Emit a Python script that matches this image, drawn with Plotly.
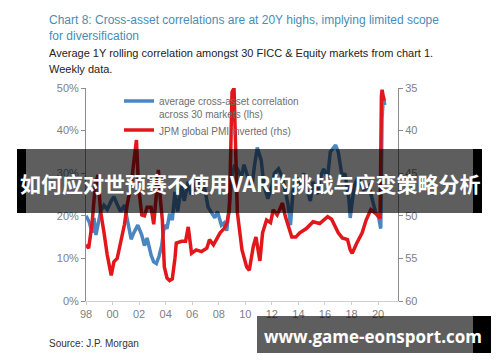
import plotly.graph_objects as go

# ---- data ----
corr_years = [1998.0, 1998.25, 1998.45, 1998.6, 1998.75, 1998.9, 1999.1, 1999.35, 1999.6, 1999.9,
              2000.1, 2000.3, 2000.6, 2000.9, 2001.1, 2001.4, 2001.6, 2001.9, 2002.2, 2002.4,
              2002.6, 2002.9, 2003.1, 2003.3, 2003.5, 2003.7, 2003.9, 2004.1, 2004.3, 2004.5,
              2004.7, 2004.9, 2005.2, 2005.4, 2005.7, 2005.9, 2006.2, 2006.4, 2006.7, 2006.9,
              2007.2, 2007.4, 2007.7, 2007.9, 2008.2, 2008.4, 2008.6, 2008.8, 2009.0, 2009.2,
              2009.4, 2009.7, 2009.9, 2010.2, 2010.5, 2010.7, 2010.9, 2011.2, 2011.4, 2011.7,
              2012.0, 2012.2, 2012.5, 2012.8, 2013.0, 2013.2, 2013.4, 2013.6, 2013.9, 2014.1,
              2014.4, 2014.6, 2014.9, 2015.1, 2015.4, 2015.7, 2015.9, 2016.2, 2016.4, 2016.8,
              2017.0, 2017.3, 2017.5, 2017.8, 2017.9, 2018.2, 2018.5, 2018.9, 2019.3, 2019.6,
              2019.8, 2020.05, 2020.2, 2020.3, 2020.4, 2020.5]
corr_values = [20, 18.5, 16, 19.5, 15.5, 18, 21, 22.5, 21.5, 23.5,
               24.5, 23, 21, 22.5, 19.5, 14.5, 16, 17.8, 15.5, 13,
               14.8, 10.8, 9.2, 8.8, 10.5, 13, 17.8, 17, 20.5, 19,
               25.6, 21, 27, 23.5, 28, 25, 26.5, 29, 25.5, 27,
               22, 21, 19.5, 21, 17.8, 18.3, 16.5, 22.5, 29.5, 32,
               31, 29, 32, 29, 27, 32, 36, 33, 27, 24,
               27, 30, 31, 29, 26, 23, 17.8, 26, 29, 27,
               30, 26.5, 23.5, 28, 25, 29.5, 31, 29, 35, 36.6,
               35, 29, 30, 24, 19.5, 27, 29, 26, 27, 23.6,
               21, 19.5, 17, 43, 48, 46]

pmi_years = [1998.0, 1998.2, 1998.45, 1998.7, 1998.9, 1999.1, 1999.35, 1999.6, 1999.9, 2000.1,
             2000.35, 2000.6, 2000.9, 2001.1, 2001.4, 2001.6, 2001.8, 2001.95, 2002.2, 2002.4,
             2002.6, 2002.9, 2003.1, 2003.3, 2003.45, 2003.6, 2003.75, 2003.9, 2004.1, 2004.3,
             2004.5, 2004.7, 2004.8, 2005.2, 2005.5, 2005.7, 2005.95, 2006.3, 2006.7, 2007.1,
             2007.3, 2007.6, 2008.1, 2008.4, 2008.6, 2008.8, 2008.9, 2009.0, 2009.15, 2009.3,
             2009.4, 2009.75, 2010.1, 2010.3, 2010.6, 2010.8, 2011.1, 2011.3, 2011.6, 2011.9,
             2012.1, 2012.4, 2012.8, 2013.0, 2013.2, 2013.5, 2013.8, 2014.1, 2014.6, 2015.1,
             2015.6, 2016.2, 2016.5, 2017.0, 2017.3, 2017.7, 2017.9, 2018.05, 2018.4, 2018.8,
             2019.1, 2019.45, 2019.95, 2020.15, 2020.25, 2020.3, 2020.45]
pmi_values = [53.4, 53.8, 51, 46.4, 45.2, 49.5, 51.9, 54.6, 57, 55.4,
              55, 53, 51, 48.7, 46.4, 43.7, 41.1, 46.4, 49.9, 50,
              49, 49, 51, 47.5, 44.6, 48, 50.5, 56, 57.3, 57.6,
              57.4, 55, 53.2, 53, 53, 51.3, 54.4, 54, 54.2, 53.8,
              52.8, 53.4, 52, 51.5, 50.9, 49.3, 42, 35.5, 35, 42.5,
              49.6, 54, 56, 56.4, 53.6, 52.5, 55.3, 52, 50.5, 50.8,
              49.3, 49.9, 48.5, 50, 51, 52.5, 52.5, 52, 51.5, 50.7,
              50.9, 50.1, 50.4, 52, 52.6, 52.8, 54, 54.4, 53.2, 52,
              50.5, 49.3, 49.9, 50.3, 36, 35.2, 36.5]

x_tickvals = [1998, 2000, 2002, 2004, 2006, 2008, 2010, 2012, 2014, 2016, 2018, 2020]
x_ticktext = ["98", "00", "02", "04", "06", "08", "10", "12", "14", "16", "18", "20"]
lhs_tickvals = [0, 10, 20, 30, 40, 50]
lhs_ticktext = ["0%", "10%", "20%", "30%", "40%", "50%"]
rhs_tickvals = [35, 40, 45, 50, 55, 60]

# ---- layout geometry (page pixels; the page body has an 8px margin) ----
BODY = 8
PAGE_W, PAGE_H = 500, 362
X0, X1, Y0, Y1 = 86, 398, 88, 301          # plot area in page pixels
W, H = PAGE_W - BODY, PAGE_H - BODY
ML, MR, MT, MB = X0 - BODY, PAGE_W - X1, Y0 - BODY, PAGE_H - Y1
PW, PH = X1 - X0, Y1 - Y0


def px(x):
    return (x - X0) / PW


def py(y):
    return (Y1 - y) / PH


SANS = "Liberation Sans, Arial, sans-serif"
CJK = "Noto Sans CJK SC, sans-serif"

fig = go.Figure()
fig.add_trace(go.Scatter(
    x=corr_years, y=corr_values, mode="lines",
    name="average cross-asset correlation<br>across 30 markets (lhs)",
    line=dict(color="#4a86c0", width=3.5), yaxis="y"))
fig.add_trace(go.Scatter(
    x=pmi_years, y=pmi_values, mode="lines",
    name="JPM global PMI inverted (rhs)",
    line=dict(color="#e3161b", width=3.5), yaxis="y2"))

axis_gray = "#8c8c8c"
tick_font = dict(family=SANS, size=11, color="#808080")

fig.update_layout(
    width=W, height=H,
    margin=dict(l=ML, r=MR, t=MT, b=MB, pad=0),
    paper_bgcolor="white", plot_bgcolor="white",
    showlegend=True,
    legend=dict(x=px(119), y=py(88), xanchor="left", yanchor="top",
                bgcolor="rgba(0,0,0,0)", font=dict(family=SANS, size=10, color="#6e6e6e"),
                valign="top", itemwidth=30),
    xaxis=dict(range=[1998, 2021.5], tickvals=x_tickvals, ticktext=x_ticktext,
               showgrid=False, zeroline=False, showline=True, linecolor="#cfcfcf", linewidth=1,
               ticks="outside", ticklen=3, tickcolor="#cfcfcf", tickfont=tick_font),
    yaxis=dict(range=[0, 50], tickvals=lhs_tickvals, ticktext=lhs_ticktext,
               showgrid=False, zeroline=False, showline=True, linecolor=axis_gray, linewidth=1,
               ticks="outside", ticklen=4, tickcolor=axis_gray, tickfont=tick_font),
    yaxis2=dict(range=[60, 35], tickvals=rhs_tickvals, overlaying="y", side="right",
                showgrid=False, zeroline=False, showline=True, linecolor=axis_gray, linewidth=1,
                ticks="outside", ticklen=4, tickcolor=axis_gray, tickfont=tick_font),
)

ann = []
title_font = dict(family=SANS, size=12, color="#4a8cb4")
sub_font = dict(family=SANS, size=11, color="#222222")
ann.append(dict(text="Chart 8: Cross-asset correlations are at 20Y highs, implying limited scope",
                x=px(47), y=py(20), xanchor="left", yanchor="middle", font=title_font))
ann.append(dict(text="for diversification",
                x=px(47), y=py(36), xanchor="left", yanchor="middle", font=title_font))
ann.append(dict(text="Average 1Y rolling correlation amongst 30 FICC &amp; Equity markets from chart 1.",
                x=px(47), y=py(53), xanchor="left", yanchor="middle", font=sub_font))
ann.append(dict(text="Weekly data.",
                x=px(47), y=py(69), xanchor="left", yanchor="middle", font=sub_font))
ann.append(dict(text="Source: J.P. Morgan", x=px(47), y=py(343), xanchor="left", yanchor="middle",
                font=dict(family=SANS, size=10, color="#333333")))

shapes = []
# top banner
shapes.append(dict(type="rect", xref="paper", yref="paper", x0=px(17), x1=px(26), y0=py(213), y1=py(149),
                   fillcolor="black", line=dict(width=0), layer="above"))
shapes.append(dict(type="rect", xref="paper", yref="paper", x0=px(26), x1=px(473), y0=py(213), y1=py(149),
                   fillcolor="rgba(0,0,0,0.63)", line=dict(width=0), layer="above"))
shapes.append(dict(type="rect", xref="paper", yref="paper", x0=px(473), x1=px(482), y0=py(213), y1=py(149),
                   fillcolor="black", line=dict(width=0), layer="above"))
# bottom banner
shapes.append(dict(type="rect", xref="paper", yref="paper", x0=px(257), x1=px(473), y0=py(353), y1=py(316),
                   fillcolor="rgba(0,0,0,0.63)", line=dict(width=0), layer="above"))
shapes.append(dict(type="rect", xref="paper", yref="paper", x0=px(473), x1=px(491), y0=py(353), y1=py(316),
                   fillcolor="black", line=dict(width=0), layer="above"))

ann.append(dict(text="<b>如何应对世预赛不使用VAR的挑战与应变策略分析</b>", x=px(250), y=py(183),
                xanchor="center", yanchor="middle",
                font=dict(family=CJK, size=21, color="white")))
ann.append(dict(text="<b>www.game-eonsport.com</b>", x=px(373), y=py(336),
                xanchor="center", yanchor="middle",
                font=dict(family="Open Sans, DejaVu Sans, sans-serif", size=17, color="white")))

for a in ann:
    a.update(xref="paper", yref="paper", showarrow=False)

fig.update_layout(annotations=ann, shapes=shapes)
fig.write_html("out.html")
